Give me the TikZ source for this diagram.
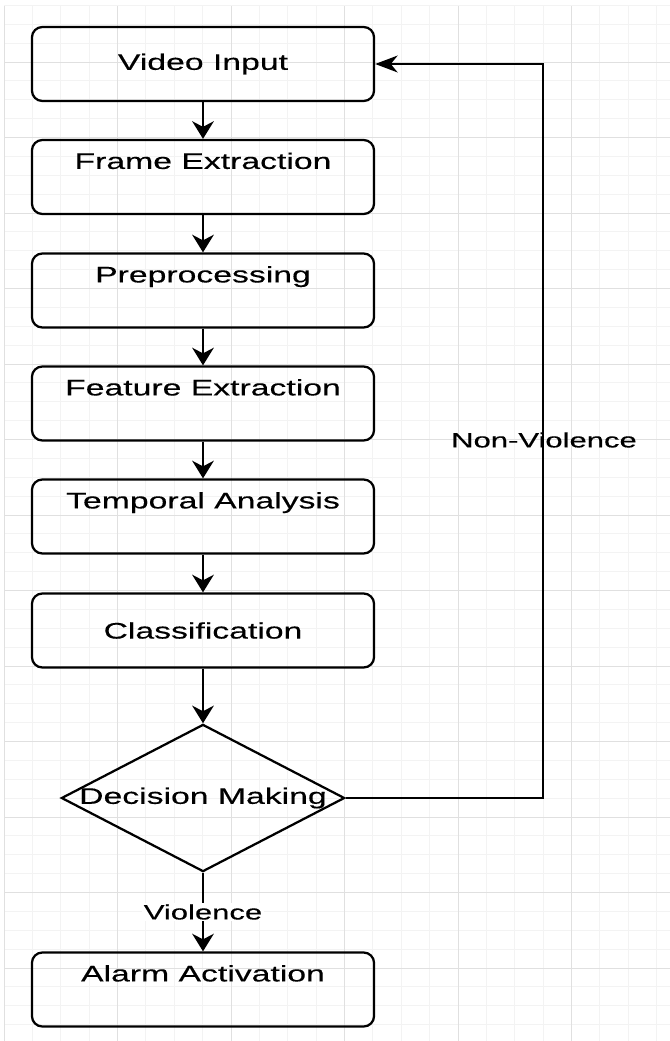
\documentclass[tikz,border=0pt]{standalone}
\usepackage{fontspec}
\usepackage{xcolor}
\usepackage{tikz}
\usetikzlibrary{arrows.meta}
\usetikzlibrary{shapes.geometric}
\newfontfamily\flowfont{Liberation Sans}[FakeStretch=1.5,FakeBold=0.3]
\definecolor{gridminor}{HTML}{F3F3F3}
\definecolor{gridmajor}{HTML}{E0E0E0}
\tikzset{
	stagebox/.style={draw,line width=1.6pt,rounded corners=0.26cm,minimum width=8.55cm,minimum height=1.85cm,inner sep=0pt,align=center,font=\flowfont\fontsize{16}{19.2}\selectfont},
	decisionbox/.style={draw,diamond,line width=1.6pt,minimum width=7.08cm,minimum height=3.68cm,inner sep=0pt},
	edgelabel/.style={inner sep=1pt,font=\flowfont\fontsize{14.7}{17.6}\selectfont},
	downarrow/.style={line width=1.7pt,-{Stealth[length=0.44cm,width=0.54cm,inset=0.14cm]}},
	leftarrow/.style={line width=1.6pt,-{Stealth[length=0.56cm,width=0.42cm,inset=0.17cm]}}
}

\begin{document}
\begin{tikzpicture}[x=0.025cm,y=-0.025cm]
	\useasboundingbox (0,0) rectangle (670,1041);
	\fill[white] (0,0) rectangle (670,1041);
	% grid
	\foreach \i in {0,...,23}
		\draw[gridminor,line width=0.6pt] ({4+28.375*\i},6) -- ({4+28.375*\i},1041);
	\foreach \j in {0,...,54}
		\draw[gridminor,line width=0.6pt] (4,{5.375+18.875*\j}) -- (670,{5.375+18.875*\j});
	\foreach \i in {0,...,5}
		\draw[gridmajor,line width=0.7pt] ({4+113.5*\i},6) -- ({4+113.5*\i},1041);
	\foreach \j in {0,...,13}
		\draw[gridmajor,line width=0.7pt] (4,{62+75.5*\j}) -- (670,{62+75.5*\j});

	\node[stagebox] (video) at (203,64) {Video Input};
	\node[stagebox] (frames) at (203,177) {\strut Frame Extraction\\\strut};
	\node[stagebox] (prep) at (203,290.5) {\strut Preprocessing\\\strut};
	\node[stagebox] (feat) at (203,403.5) {\strut Feature Extraction\\\strut};
	\node[stagebox] (temporal) at (203,516.5) {\strut Temporal Analysis\\\strut};
	\node[stagebox] (classify) at (203,630.5) {Classification};
	\node[decisionbox,label={[font=\flowfont\fontsize{16}{19.2}\selectfont]center:Decision Making}] (decide) at (203,798) {};
	\node[stagebox] (alarm) at (203,989.5) {\strut Alarm Activation\\\strut};
	\coordinate (loopcorner) at (543,798);

	\draw[downarrow] (video) -- (frames);
	\draw[downarrow] (frames) -- (prep);
	\draw[downarrow] (prep) -- (feat);
	\draw[downarrow] (feat) -- (temporal);
	\draw[downarrow] (temporal) -- (classify);
	\draw[downarrow] (classify) -- (decide);
	\draw[downarrow] (decide) -- node[edgelabel,fill=white] (violent) {Violence} (alarm);
	\draw[leftarrow] (decide.east) -- (loopcorner) |- (video.east);
	\node[edgelabel] (nonviolent) at (544,440) {Non-Violence};
\end{tikzpicture}
\end{document}
